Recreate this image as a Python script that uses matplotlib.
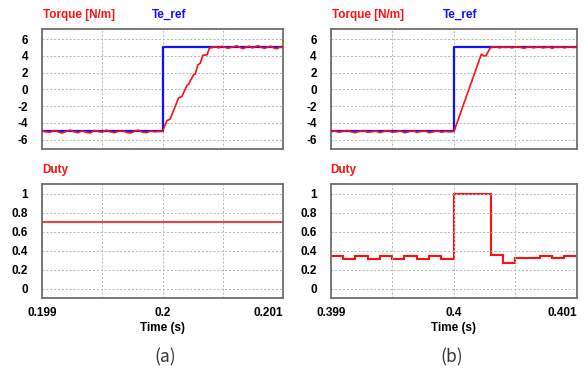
import numpy as np
import matplotlib
matplotlib.use("Agg")
import matplotlib.pyplot as plt

plt.rcParams['font.family'] = ['Liberation Sans', 'DejaVu Sans']

# ---- data ----
# (a) step at t = 0.2 s
a_pre_torque = [-4.95, -5.05, -5.1, -4.9, -5.05, -5.2, -5.0, -4.85, -5.05, -5.15,
                -4.95, -5.1, -5.2, -4.9, -5.0, -5.1, -4.85, -5.05, -5.15, -5.0,
                -4.9, -5.1, -5.2, -5.0, -4.85, -5.1, -5.15, -4.95, -5.05, -5.0]
a_ramp_us = [0, 36, 64, 133, 161, 203, 217, 258, 272, 294, 314, 333, 370, 389]
a_ramp_torque = [-5.0, -3.73, -3.53, -1.02, -0.83, 0.48, 0.64, 1.75, 1.83,
                 2.94, 3.14, 4.05, 4.13, 4.93]
a_post_torque = [5.0, 5.1, 4.95, 5.15, 5.05, 4.9, 5.0, 5.1, 5.2, 5.0, 4.85, 5.05,
                 5.15, 4.95, 5.1, 5.2, 5.0, 4.9, 5.05, 5.15, 4.95, 4.85, 5.05, 5.0]
a_duty = 0.7

# (b) step at t = 0.4 s
b_pre_torque = [-5.05, -4.95, -5.1, -5.0, -4.9, -5.05, -5.15, -5.0, -4.9, -5.1,
                -5.05, -4.95, -5.15, -5.0, -4.9, -5.1, -5.05, -4.95, -5.15, -5.05,
                -4.9, -5.1, -5.0, -4.95, -5.15, -5.05, -4.9, -5.1, -5.0, -5.05]
b_ramp_us = [0, 5, 225, 245, 262, 297]
b_ramp_torque = [-5.0, -4.9, 4.2, 4.0, 4.0, 4.95]
b_post_torque = [5.05, 5.1, 4.95, 5.05, 5.0, 5.1, 4.95, 5.05, 5.1, 5.0, 4.9, 5.05,
                 5.1, 4.95, 5.05, 5.1, 4.95, 5.0, 5.1, 4.9, 5.05, 5.0, 5.1, 4.95,
                 5.05, 5.1, 5.0, 5.05]
b_duty_edges_us = [0, 100, 200, 300, 400, 500, 600, 700, 800, 900, 1000,
                   1300, 1400, 1500, 1700, 1800, 1900, 2000]
b_duty = [0.345, 0.32, 0.345, 0.32, 0.345, 0.32, 0.345, 0.32, 0.345, 0.32,
          1.0, 0.36, 0.27, 0.33, 0.35, 0.33, 0.35]

te_ref_levels = [-5, 5]

RED = '#ff1010'
BLUE = '#1010ff'
FRAME = '#6e6e6e'
GRID = '#b4b4b4'


def torque_series(t0, pre, ramp_us, ramp_v, post, t_end):
    t_pre = np.linspace(t0 - 0.001, t0, len(pre), endpoint=False)
    t_ramp = t0 + np.array(ramp_us) * 1e-6
    t_post = np.linspace(t_ramp[-1], t_end, len(post) + 1)[1:]
    t = np.concatenate([t_pre, t_ramp, t_post])
    v = np.concatenate([pre, ramp_v, post])
    return t, v


def style_axes(ax, t0, ylim, yticks, yticklabels, show_x):
    ax.set_xlim(t0 - 0.001, t0 + 0.001)
    ax.set_ylim(*ylim)
    ax.set_yticks(yticks)
    ax.set_yticklabels(yticklabels, fontsize=8.5, fontweight='bold')
    ax.set_xticks([t0 - 0.001, t0 - 0.0005, t0, t0 + 0.0005, t0 + 0.001])
    if show_x:
        labs = ax.set_xticklabels([f"{t0 - 0.001:.3f}", '', f"{t0:g}", '',
                                   f"{t0 + 0.001:.3f}"],
                                  fontsize=8.5, fontweight='bold')
        labs[-1].set_ha('right')
        ax.set_xlabel('Time (s)', fontsize=8.5, fontweight='bold', labelpad=2)
    else:
        ax.set_xticklabels([])
    ax.tick_params(length=0, pad=10, axis='y')
    ax.tick_params(length=0, pad=7, axis='x')
    ax.grid(True, color=GRID, linestyle=(0, (2, 2)), linewidth=0.7)
    for s in ax.spines.values():
        s.set_color(FRAME)
        s.set_linewidth(1.3)


fig = plt.figure(figsize=(5.85, 3.69), dpi=100)

panels = [
    (0.0718, 0.2, a_pre_torque, a_ramp_us, a_ramp_torque, a_post_torque),
    (0.5653, 0.4, b_pre_torque, b_ramp_us, b_ramp_torque, b_post_torque),
]

for i, (left, t0, pre, rus, rv, post) in enumerate(panels):
    width = 0.412 if i == 0 else 0.4205
    ax_t = fig.add_axes([left, 0.5962, width, 0.3252])
    ax_d = fig.add_axes([left, 0.1932, width, 0.3073])

    # torque
    ax_t.plot([t0 - 0.001, t0, t0, t0 + 0.001],
              [te_ref_levels[0], te_ref_levels[0], te_ref_levels[1], te_ref_levels[1]],
              color=BLUE, lw=1.6, zorder=3)
    t, v = torque_series(t0, pre, rus, rv, post, t0 + 0.001)
    ax_t.plot(t, v, color=RED, lw=1.2, zorder=4)
    style_axes(ax_t, t0, (-7.1, 7.2), [-6, -4, -2, 0, 2, 4, 6],
               ['-6', '-4', '-2', '0', '2', '4', '6'], False)
    ax_t.text(0.005, 1.117, 'Torque [N/m]', transform=ax_t.transAxes, color=RED,
              fontsize=8.5, fontweight='bold', va='center', ha='left')
    ax_t.text(0.456, 1.117, 'Te_ref', transform=ax_t.transAxes, color=BLUE,
              fontsize=8.5, fontweight='bold', va='center', ha='left')

    # duty
    if i == 0:
        ax_d.plot([t0 - 0.001, t0 + 0.001], [a_duty, a_duty], color=RED, lw=1.2)
    else:
        edges = t0 - 0.001 + np.array(b_duty_edges_us) * 1e-6
        ax_d.stairs(b_duty, edges, color=RED, lw=1.5, baseline=None)
    style_axes(ax_d, t0, (-0.092, 1.1), [0, 0.2, 0.4, 0.6, 0.8, 1.0],
               ['0', '0.2', '0.4', '0.6', '0.8', '1'], True)
    ax_d.text(0.0, 1.126, 'Duty', transform=ax_d.transAxes, color=RED,
              fontsize=8.5, fontweight='bold', va='center', ha='left')

cap_font = ['Noto Sans CJK KR', 'DejaVu Sans']
fig.text(165 / 585, 1 - 357 / 369, '(a)', fontsize=12.5, ha='center', va='center',
         family=cap_font, color='#333333')
fig.text(452 / 585, 1 - 357 / 369, '(b)', fontsize=12.5, ha='center', va='center',
         family=cap_font, color='#333333')

fig.savefig('out.png', dpi=100)
